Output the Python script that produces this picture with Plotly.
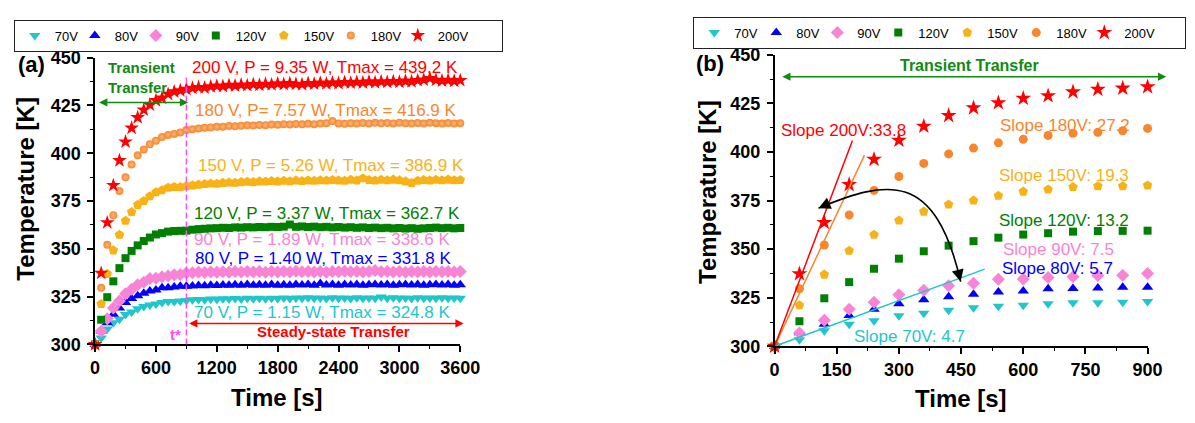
import plotly.graph_objects as go

# ---------------------------------------------------------------------------
# Data: surface temperature [K] sampled once a minute, 0 ... 3600 s
# ---------------------------------------------------------------------------
time_s = list(range(0, 3601, 60))

temp_70v = [300.0, 303.4, 308.0, 311.3, 313.2, 315.7, 317.0, 318.6, 319.8, 320.6, 321.1, 321.9, 322.4, 322.4, 322.7, 323.0,
            323.3, 323.5, 323.4, 323.7, 323.6, 323.9, 323.7, 324.0, 323.8, 324.1,
            323.9, 324.2, 323.9, 324.2, 324.0, 324.3, 324.0, 324.3, 324.1, 324.4,
            324.1, 324.3, 324.0, 324.4, 324.1, 324.3, 324.0, 324.4, 324.1, 324.3,
            324.1, 324.8, 324.2, 324.4, 324.1, 324.3, 324.0, 324.4, 324.1, 324.3,
            324.1, 324.4, 324.2, 324.3, 324.1]
temp_80v = [300.0, 307.0, 311.3, 315.8, 319.1, 321.9, 324.0, 325.5, 326.8, 327.9, 328.4, 329.6, 329.7, 330.0, 330.4, 330.4,
            330.6, 330.8, 330.7, 331.0, 330.8, 331.1, 330.9, 331.2, 331.0, 331.3,
            331.0, 331.2, 330.9, 331.3, 331.0, 331.2, 331.0, 331.4, 331.1, 331.3,
            331.0, 331.8, 331.1, 331.3, 331.0, 331.4, 331.1, 331.3, 331.0, 331.2,
            331.4, 331.1, 331.3, 331.0, 331.2, 331.4, 331.1, 331.3, 331.0, 331.2,
            331.4, 331.1, 331.3, 331.0, 331.2]
temp_90v = [300.0, 306.9, 313.4, 319.1, 322.7, 326.5, 328.9, 331.2, 332.5, 334.5, 334.6, 335.4, 335.8, 336.4, 336.6, 337.4,
            337.5, 337.7, 337.6, 337.9, 337.8, 338.0, 337.8, 338.1, 337.9, 338.2,
            337.9, 338.1, 337.8, 338.2, 337.9, 338.1, 337.9, 338.3, 338.0, 338.2,
            337.9, 338.1, 337.8, 338.2, 338.0, 338.3, 338.0, 338.2, 337.9, 338.1,
            338.6, 338.0, 338.2, 337.9, 338.1, 337.8, 338.2, 337.9, 338.1, 337.9,
            338.2, 338.0, 338.1, 337.9, 338.1]
temp_120v = [300.0, 312.9, 324.7, 333.0, 339.9, 345.1, 348.9, 351.8, 354.1, 355.9, 357.5, 358.2, 359.0, 359.3, 359.4, 359.5,
             360.0, 360.3, 360.5, 360.7, 360.8, 361.0, 360.9, 361.2, 361.1, 361.3,
             361.2, 361.4, 361.3, 361.5, 361.4, 361.6, 362.7, 361.5, 361.7, 361.4,
             361.6, 361.3, 361.5, 361.2, 361.4, 361.1, 361.3, 361.0, 361.2, 360.9,
             361.1, 360.8, 361.0, 360.7, 360.9, 360.6, 360.8, 360.5, 360.7, 360.9,
             361.1, 360.8, 361.0, 360.7, 360.9]
temp_150v = [300.0, 321.1, 336.9, 349.2, 357.4, 364.7, 369.3, 373.0, 375.0, 377.5, 379.6, 380.7, 382.0, 382.4, 382.4, 382.8,
             383.2, 383.6, 383.9, 384.2, 384.1, 384.5, 384.7, 384.6, 384.9, 385.1,
             384.9, 385.3, 385.2, 385.5, 385.3, 385.6, 385.4, 385.7, 385.5, 385.8,
             385.6, 385.9, 385.7, 386.0, 385.8, 385.6, 386.1, 385.8, 386.9, 386.0,
             385.7, 386.1, 385.9, 386.2, 385.9, 385.3, 384.4, 385.6, 386.0, 385.8,
             386.1, 385.9, 386.2, 385.9, 386.0]
temp_180v = [300.0, 329.6, 352.1, 367.6, 380.2, 387.4, 394.1, 399.0, 402.0, 404.7, 406.5, 408.5, 409.6, 410.1, 410.9, 412.1,
             412.6, 412.9, 413.3, 413.5, 413.8, 413.9, 414.2, 414.1, 414.4, 414.6,
             414.5, 414.8, 414.7, 415.0, 414.9, 415.2, 415.0, 415.3, 415.1, 415.4,
             415.2, 415.5, 415.7, 416.9, 415.6, 415.4, 415.7, 415.5, 415.8, 415.6,
             415.9, 415.7, 415.8, 415.6, 415.9, 415.7, 415.5, 415.8, 415.6, 415.9,
             415.7, 415.5, 415.8, 415.6, 415.7]
temp_200v = [300.0, 337.3, 363.7, 383.2, 396.2, 406.0, 413.2, 418.7, 422.7, 425.3, 427.6, 428.9, 430.9, 432.2, 432.8, 433.5,
             434.1, 434.5, 434.3, 434.9, 435.2, 435.0, 435.6, 435.3, 435.8, 435.5,
             436.0, 435.7, 436.2, 435.9, 436.4, 436.1, 436.5, 436.2, 436.0, 436.6,
             436.3, 436.8, 436.4, 436.9, 436.6, 437.1, 436.8, 437.2, 436.9, 437.4,
             437.0, 437.5, 437.2, 437.6, 437.3, 437.8, 437.5, 438.1, 438.4, 439.2,
             438.3, 437.9, 438.2, 437.8, 438.1]

series_names = ["70V", "80V", "90V", "120V", "150V", "180V", "200V"]
series_temps = [temp_70v, temp_80v, temp_90v, temp_120v, temp_150v, temp_180v, temp_200v]

# annotation values
power_w = [1.15, 1.40, 1.89, 3.37, 5.26, 7.57, 9.35]
tmax_k = [324.8, 331.8, 338.6, 362.7, 386.9, 416.9, 439.2]
slope_k_per_min = [4.7, 5.7, 7.5, 13.2, 19.3, 27.2, 33.8]

t_star = 900          # end of the transient regime [s]
zoom_end = 900        # right panel shows the first 900 s

for temps in series_temps:
    assert len(temps) == len(time_s)

# ---------------------------------------------------------------------------
# Styles
# ---------------------------------------------------------------------------
W, H = 1195, 423
FONT = "Liberation Sans, Arial, Helvetica, sans-serif"

colors = ["#1FC6CA", "#0000FF", "#F984D6", "#008000", "#F9B216", "#F7862D", "#FF0000"]
symbols = ["triangle-down", "triangle-up", "diamond", "square", "pentagon", "circle", "star"]
size_a = [10, 10, 10, 8, 10, 8, 11]
size_b = [10, 10, 10, 8, 10, 9, 12]
legend_w_a = [15, 16, 15, 23, 22, 22, 59]
legend_w_b = [17, 16, 16, 24, 24, 23, 56]

GREEN = "#108A10"
MAGENTA = "#FF4DFF"

# label placement (data coordinates)
tmax_label_pos = [(965, 316.9), (975, 345.0), (965, 354.8), (965, 368.3),
                  (1004, 393.7), (975, 422.6), (946, 445.0)]
slope_label_pos = [(189, 304.9), (546, 340.2), (548, 350.0), (539, 364.7),
                   (539, 387.7), (541, 413.7), (12, 410.8)]
slope_line_end = {0: 507, 5: 217, 6: 188}   # series index -> end time of fit line


def px_x(p):
    return p / W


def px_y(p):
    return 1 - p / H


fig = go.Figure()

# ---- panel (a): full 3600 s record ----
for i, (name, temps) in enumerate(zip(series_names, series_temps)):
    marker = dict(symbol=symbols[i], size=size_a[i], color=colors[i], line=dict(width=0))
    if symbols[i] == "circle":
        marker["gradient"] = dict(type="radial", color="#FCB77A")
    fig.add_trace(go.Scatter(
        x=time_s, y=temps, mode="markers", name=name, marker=marker,
        xaxis="x", yaxis="y", legend="legend", legendwidth=legend_w_a[i],
        cliponaxis=False,
    ))

# ---- panel (b): first 900 s ----
n_zoom = sum(1 for t in time_s if t <= zoom_end)
for i, (name, temps) in enumerate(zip(series_names, series_temps)):
    fig.add_trace(go.Scatter(
        x=time_s[:n_zoom], y=temps[:n_zoom], mode="markers", name=name,
        marker=dict(symbol=symbols[i], size=size_b[i], color=colors[i], line=dict(width=0)),
        xaxis="x2", yaxis="y2", legend="legend2", legendwidth=legend_w_b[i],
        cliponaxis=False,
    ))

# initial heating-rate lines
for i, t_end in slope_line_end.items():
    t0 = series_temps[i][0]
    rate = slope_k_per_min[i] / 60.0
    fig.add_trace(go.Scatter(
        x=[0, t_end], y=[t0, t0 + rate * t_end], mode="lines",
        line=dict(color=colors[i], width=1.5), showlegend=False,
        xaxis="x2", yaxis="y2", hoverinfo="skip",
    ))

annotations = []

# Tmax labels in panel (a)
for i, name in enumerate(series_names):
    volts = name[:-1]
    sep = "" if name == "180V" else " "
    text = f"{volts} V, P{sep}= {power_w[i]:.2f} W, Tmax = {tmax_k[i]:.1f} K"
    x, y = tmax_label_pos[i]
    annotations.append(dict(x=x, y=y, xref="x", yref="y", text=text, showarrow=False,
                            xanchor="left", yanchor="middle", borderpad=0,
                            font=dict(family=FONT, size=17, color=colors[i])))

# slope labels in panel (b)
for i, name in enumerate(series_names):
    sep = "" if name == "200V" else " "
    text = f"Slope {name}:{sep}{slope_k_per_min[i]}"
    x, y = slope_label_pos[i]
    annotations.append(dict(x=x, y=y, xref="x2", yref="y2", text=text, showarrow=False,
                            xanchor="left", yanchor="middle", borderpad=0,
                            font=dict(family=FONT, size=17, color=colors[i])))

bold = dict(family=FONT, weight="bold")

# regime annotations, panel (a)
annotations += [
    dict(x=106, y=439.5, xref="x", yref="y", text="Transient<br>Transfer", showarrow=False,
         xanchor="left", yanchor="middle", align="left",
         font=dict(size=15, color=GREEN, **bold)),
    dict(x=t_star + 17, y=426.6, ax=25, ay=426.6, xref="x", yref="y", axref="x", ayref="y",
         text="", showarrow=True, arrowside="end+start", arrowhead=2, startarrowhead=2,
         arrowsize=1.1, startarrowsize=1.1, arrowwidth=1.5, arrowcolor=GREEN),
    dict(x=t_star + 27, y=311.0, ax=3648, ay=311.0, xref="x", yref="y", axref="x", ayref="y",
         text="", showarrow=True, arrowside="end+start", arrowhead=2, startarrowhead=2,
         arrowsize=1.1, startarrowsize=1.1, arrowwidth=1.5, arrowcolor="#FF0000"),
    dict(x=1573, y=306.5, xref="x", yref="y", text="Steady-state Transfer", showarrow=False,
         xanchor="left", yanchor="middle", font=dict(size=15, color="#FF0000", **bold)),
    dict(x=t_star - 30, y=305.0, xref="x", yref="y", text="t*", showarrow=False,
         xanchor="right", yanchor="middle", font=dict(size=15, color=MAGENTA, **bold)),
]

# regime annotations, panel (b)
annotations += [
    dict(x=471, y=444.6, xref="x2", yref="y2", text="Transient Transfer", showarrow=False,
         xanchor="center", yanchor="middle", font=dict(size=16, color=GREEN, **bold)),
    dict(x=945, y=438.7, ax=15, ay=438.7, xref="x2", yref="y2", axref="x2", ayref="y2",
         text="", showarrow=True, arrowside="end+start", arrowhead=2, startarrowhead=2,
         arrowsize=1.1, startarrowsize=1.1, arrowwidth=1.5, arrowcolor=GREEN),
    # heads of the curved arrow
    dict(x=106, y=371.1, ax=11, ay=-5, xref="x2", yref="y2", text="", showarrow=True,
         arrowhead=2, arrowsize=1.5, arrowwidth=1.6, arrowcolor="black"),
    dict(x=449, y=333.3, ax=-3, ay=-12, xref="x2", yref="y2", text="", showarrow=True,
         arrowhead=2, arrowsize=1.5, arrowwidth=1.6, arrowcolor="black"),
]

# panel letters and axis titles
annotations += [
    dict(x=px_x(11), y=px_y(57), xref="paper", yref="paper", text="(a)", showarrow=False,
         xanchor="left", yanchor="middle", font=dict(size=22, color="black", **bold)),
    dict(x=px_x(704), y=px_y(56), xref="paper", yref="paper", text="(b)", showarrow=False,
         xanchor="left", yanchor="middle", font=dict(size=22, color="black", **bold)),
    dict(x=px_x(21), y=px_y(188), xref="paper", yref="paper", text="Temperature [K]",
         textangle=-90, showarrow=False, xanchor="center", yanchor="middle",
         font=dict(size=24, color="black", **bold)),
    dict(x=px_x(718), y=px_y(191), xref="paper", yref="paper", text="Temperature [K]",
         textangle=-90, showarrow=False, xanchor="center", yanchor="middle",
         font=dict(size=24, color="black", **bold)),
    dict(x=px_x(278), y=px_y(407), xref="paper", yref="paper", text="Time [s]",
         showarrow=False, xanchor="center", yanchor="middle",
         font=dict(size=24, color="black", **bold)),
    dict(x=px_x(976), y=px_y(408), xref="paper", yref="paper", text="Time [s]",
         showarrow=False, xanchor="center", yanchor="middle",
         font=dict(size=24, color="black", **bold)),
]

shapes = [
    dict(type="line", xref="x", yref="y", x0=t_star, x1=t_star, y0=300, y1=440,
         line=dict(color=MAGENTA, width=1.5, dash="6px,3px")),
    dict(type="path", xref="x2", yref="y2",
         path="M 106,371.1 C 272,385.8 387,390.7 449,333.3",
         line=dict(color="black", width=1.6)),
]


def axis_style(**kw):
    base = dict(showline=True, linecolor="black", linewidth=1.5, mirror=False,
                ticks="outside", ticklen=6, tickwidth=1.5, tickcolor="black",
                showgrid=False, zeroline=False,
                tickfont=dict(family=FONT, size=18, color="black", weight="bold"))
    base.update(kw)
    return base


legend_common = dict(orientation="h", xanchor="left", yanchor="top",
                     font=dict(family=FONT, size=13, color="black"),
                     bgcolor="white", bordercolor="#222222", borderwidth=1,
                     itemsizing="trace")

fig.update_layout(
    width=W, height=H, autosize=False,
    margin=dict(l=0, r=0, t=0, b=0),
    paper_bgcolor="white", plot_bgcolor="white",
    xaxis=axis_style(domain=[px_x(92), px_x(465)], range=[0, 3600], anchor="y",
                     tick0=0, dtick=600,
                     minor=dict(dtick=300, ticks="outside", ticklen=3, tickwidth=1.2, tickcolor="black")),
    yaxis=axis_style(domain=[px_y(351), px_y(50)], range=[300, 450], anchor="x",
                     tick0=300, dtick=25, ticklabelstandoff=3,
                     minor=dict(dtick=12.5, ticks="outside", ticklen=3, tickwidth=1.2, tickcolor="black")),
    xaxis2=axis_style(domain=[px_x(786), px_x(1167)], range=[0, 900], anchor="y2",
                      tick0=0, dtick=150,
                      minor=dict(dtick=75, ticks="outside", ticklen=3, tickwidth=1.2, tickcolor="black")),
    yaxis2=axis_style(domain=[px_y(353), px_y(47)], range=[300, 450], anchor="x2",
                      tick0=300, dtick=25, ticklabelstandoff=3,
                      minor=dict(dtick=12.5, ticks="outside", ticklen=3, tickwidth=1.2, tickcolor="black")),
    legend=dict(x=px_x(9), y=px_y(10), **legend_common),
    legend2=dict(x=px_x(703), y=px_y(7), **legend_common),
    annotations=annotations,
    shapes=shapes,
    showlegend=True,
)

fig.write_html("out.html")
